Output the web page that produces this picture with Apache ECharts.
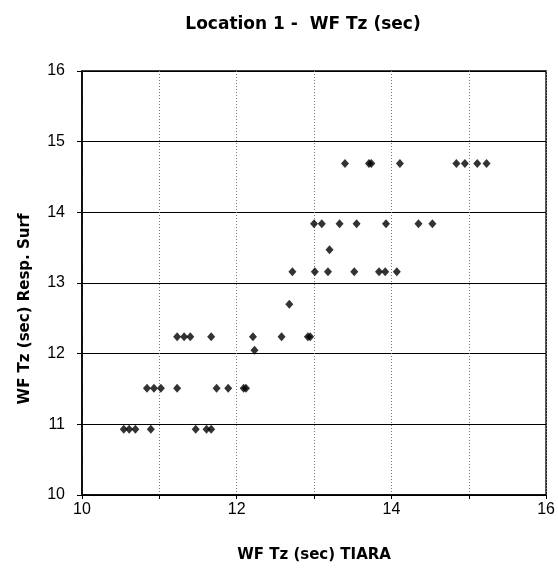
<!DOCTYPE html>
<html>
<head>
<meta charset="utf-8">
<script src="https://cdn.jsdelivr.net/npm/echarts@6/dist/echarts.min.js"></script>
<style>
  html, body { margin: 0; padding: 0; background: #fff; }
  #main { width: 558px; height: 572px; }
</style>
</head>
<body>
<div id="main"></div>
<script>
// WF Tz (sec): TIARA (x) vs response surface (y)
const tzTiara = [
  10.54, 10.61, 10.69, 10.89, 11.47, 11.61, 11.67,
  10.84, 10.93, 11.02, 11.23, 11.74, 11.89, 12.09, 12.12,
  11.23, 11.32, 11.40, 11.67, 12.21, 12.58, 12.92, 12.95,
  12.23, 12.68,
  12.72, 13.01, 13.18, 13.52, 13.84, 13.92, 14.07,
  13.20,
  13.00, 13.10, 13.33, 13.55, 13.93, 14.35, 14.53,
  13.40, 13.71, 13.74, 14.11, 14.84, 14.95, 15.11, 15.23
];
const tzRespSurf = [
  10.93, 10.93, 10.93, 10.93, 10.93, 10.93, 10.93,
  11.51, 11.51, 11.51, 11.51, 11.51, 11.51, 11.51, 11.51,
  12.24, 12.24, 12.24, 12.24, 12.24, 12.24, 12.24, 12.24,
  12.05, 12.70,
  13.16, 13.16, 13.16, 13.16, 13.16, 13.16, 13.16,
  13.47,
  13.84, 13.84, 13.84, 13.84, 13.84, 13.84, 13.84,
  14.69, 14.69, 14.69, 14.69, 14.69, 14.69, 14.69, 14.69
];
const xTickLabels = [10, 12, 14, 16];

const points = tzTiara.map((x, i) => [x, tzRespSurf[i]]);
const font = "Liberation Sans, Arial, sans-serif";
const boldFont = "DejaVu Sans, Liberation Sans, sans-serif";

const chart = echarts.init(document.getElementById("main"));
chart.setOption({
  backgroundColor: "#fff",
  animation: false,
  title: {
    text: "Location 1 -  WF Tz (sec)",
    left: 298,
    top: 11,
    textAlign: "center",
    textStyle: { fontFamily: boldFont, fontSize: 17, fontWeight: "bold", color: "#000" }
  },
  grid: {
    left: 82, right: 6, top: 71, bottom: 77,
    show: true, borderColor: "#000", borderWidth: 1.5
  },
  xAxis: {
    type: "value",
    min: 10, max: 16, interval: 1,
    name: "WF Tz (sec) TIARA",
    nameLocation: "middle",
    nameGap: 53,
    nameTextStyle: { fontFamily: boldFont, fontSize: 15, fontWeight: "bold", color: "#000" },
    axisLine: { lineStyle: { color: "#000", width: 1.5 } },
    axisTick: { show: true, length: 4, lineStyle: { color: "#000" } },
    axisLabel: {
      fontFamily: font, fontSize: 16, color: "#000", margin: 7,
      formatter: (v) => (xTickLabels.includes(v) ? String(v) : "")
    },
    splitLine: { show: true, lineStyle: { color: "#777", type: [1, 2], width: 1 } }
  },
  yAxis: {
    type: "value",
    min: 10, max: 16, interval: 1,
    name: "WF Tz (sec) Resp. Surf",
    nameLocation: "middle",
    nameGap: 49,
    nameTextStyle: {
      fontFamily: boldFont, fontSize: 15, fontWeight: "bold", color: "#000",
      padding: [0, 52, 0, 0]
    },
    axisLine: { lineStyle: { color: "#000", width: 1.5 } },
    axisTick: { show: true, length: 5, inside: false, lineStyle: { color: "#000" } },
    axisLabel: { fontFamily: font, fontSize: 16, color: "#000", margin: 17 },
    splitLine: { show: true, lineStyle: { color: "#000", width: 1 } }
  },
  series: [{
    type: "scatter",
    symbol: "diamond",
    symbolSize: [8, 9],
    itemStyle: { color: "#000" },
    data: points
  }]
});
</script>
</body>
</html>
